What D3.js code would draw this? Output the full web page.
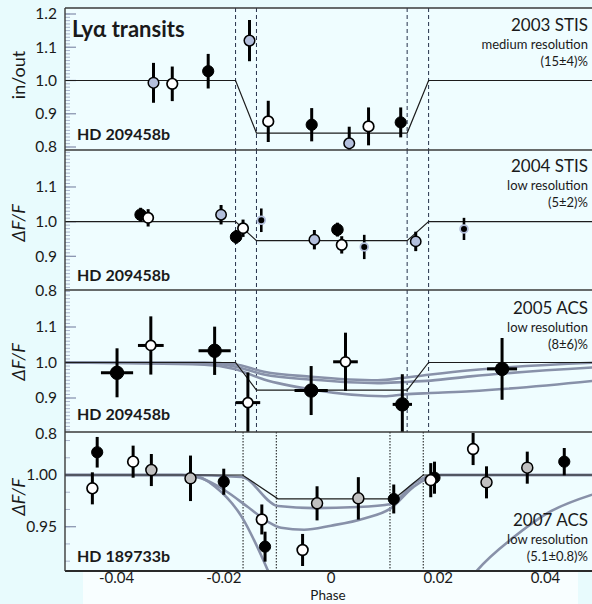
<!DOCTYPE html>
<html>
<head>
<meta charset="utf-8">
<script src="https://cdn.jsdelivr.net/npm/d3@7"></script>
<style>
  body { margin: 0; background: #e8fbfd; }
  svg { display: block; }
  text { font-family: Lato, "Open Sans", sans-serif; fill: #1a1a1a; }
</style>
</head>
<body>
<div id="chart"></div>
<script>
// ---- data : [phase, value, error in value, (error in phase)] ----

// 2003 STIS (HD 209458b)
const sti03Blue  = [[-0.0331, 0.993, 0.060], [-0.0152, 1.120, 0.062], [0.0034, 0.811, 0.050]];
const sti03Black = [[-0.0229, 1.028, 0.052], [-0.0036, 0.867, 0.050], [0.0130, 0.874, 0.045]];
const sti03White = [[-0.0296, 0.990, 0.052], [-0.0117, 0.877, 0.062], [0.0070, 0.862, 0.057]];

// 2004 STIS (HD 209458b)
const sti04Blue  = [[-0.0205, 1.020, 0.028], [-0.0031, 0.948, 0.028], [0.0158, 0.943, 0.028]];
const sti04Dot   = [[-0.0130, 1.004, 0.034], [0.0062, 0.927, 0.035], [0.0248, 0.979, 0.032]];
const sti04Black = [[-0.0355, 1.020, 0.020], [-0.0177, 0.956, 0.020], [0.0012, 0.977, 0.020]];
const sti04White = [[-0.0341, 1.011, 0.025], [-0.0164, 0.981, 0.025], [0.0020, 0.933, 0.025]];

// 2005 ACS (HD 209458b)
const acs05Black = [[-0.0399, 0.971, 0.069, 0.0030], [-0.0217, 1.033, 0.068, 0.0030],
                    [-0.0037, 0.921, 0.069, 0.0031], [0.0133, 0.882, 0.085, 0.0018],
                    [0.0319, 0.982, 0.087, 0.0028]];
const acs05White = [[-0.0336, 1.048, 0.082, 0.0024], [-0.0155, 0.887, 0.085, 0.0023],
                    [0.0027, 1.002, 0.082, 0.0023]];

// 2007 ACS (HD 189733b)
const acs07Gray  = [[-0.0335, 1.0048, 0.0155], [-0.0262, 0.9968, 0.0220], [-0.0026, 0.9726, 0.0165],
                    [0.0051, 0.9774, 0.0205], [0.0290, 0.9929, 0.0155], [0.0366, 1.0071, 0.0155]];
const acs07Black = [[-0.0436, 1.0220, 0.0148], [-0.0200, 0.9935, 0.0126], [-0.0123, 0.9307, 0.0145],
                    [0.0117, 0.9768, 0.0140], [0.0193, 0.9974, 0.0155], [0.0435, 1.0129, 0.0132]];
const acs07White = [[-0.0445, 0.9871, 0.0155], [-0.0369, 1.0129, 0.0155], [-0.0129, 0.9570, 0.0145],
                    [-0.0053, 0.9275, 0.0155], [0.0186, 0.9950, 0.0165], [0.0265, 1.0251, 0.0155]];

// models : [phase, value]
const box209a = [[-0.05, 1.0], [-0.0178, 1.0], [-0.0139, 0.842], [0.0142, 0.842], [0.0182, 1.0], [0.05, 1.0]];
const box209b = [[-0.05, 1.0], [-0.0178, 1.0], [-0.0139, 0.945], [0.0142, 0.945], [0.0182, 1.0], [0.05, 1.0]];
const box209c = [[-0.05, 1.0], [-0.0178, 1.0], [-0.0139, 0.922], [0.0142, 0.922], [0.0182, 1.0], [0.05, 1.0]];
const box189  = [[-0.05, 1.0], [-0.0165, 1.0], [-0.0099, 0.977], [0.0118, 0.977], [0.0172, 1.0], [0.05, 1.0]];

const sim05a = [[-0.05, 1.0], [-0.0236, 1.0], [-0.018, 0.995], [-0.0125, 0.974], [-0.0037, 0.960],
                [0.0087, 0.950], [0.0136, 0.957], [0.0186, 0.966], [0.026, 0.978], [0.05, 1.0]];
const sim05b = [[-0.05, 1.0], [-0.0236, 0.998], [-0.018, 0.989], [-0.0125, 0.966], [-0.0037, 0.952],
                [0.0087, 0.942], [0.0136, 0.945], [0.0186, 0.949], [0.026, 0.961], [0.05, 0.987]];
const sim05c = [[-0.05, 1.0], [-0.0236, 0.994], [-0.018, 0.982], [-0.0125, 0.952], [-0.0037, 0.924],
                [0.0099, 0.905], [0.0136, 0.910], [0.0186, 0.914], [0.026, 0.919], [0.05, 0.950]];

const sim07a = [[-0.05, 1.0], [-0.0279, 1.0], [-0.0167, 0.998], [-0.0099, 0.970], [-0.0031, 0.968],
                [0.0050, 0.969], [0.0112, 0.972], [0.0155, 0.992], [0.0192, 1.0], [0.05, 1.0]];
const sim07b = [[-0.05, 1.0], [-0.0279, 1.0], [-0.0242, 0.9968], [-0.0199, 0.9855], [-0.0155, 0.969],
                [-0.0118, 0.955], [-0.0093, 0.949], [-0.0050, 0.947], [0.0, 0.951], [0.0062, 0.958],
                [0.0112, 0.968], [0.0155, 0.989], [0.0205, 1.0], [0.05, 1.0]];
const sim07c = [[-0.05, 1.0], [-0.0260, 1.0], [-0.0216, 0.9887], [-0.0167, 0.960], [-0.0118, 0.908],
                [-0.008, 0.86], [0.0, 0.80], [0.015, 0.82], [0.022, 0.87], [0.0273, 0.908],
                [0.0341, 0.940], [0.0403, 0.963], [0.0487, 0.981]];

// contacts
const contacts209 = [-0.0178, -0.0139, 0.0142, 0.0182];
const contacts189 = [-0.0164, -0.0102, 0.0110, 0.0172];

// axis ticks
const phaseTicks = [-0.04, -0.02, 0, 0.02, 0.04];
const phaseTickLabels = ['-0.04', '-0.02', '0', '0.02', '0.04'];
const ticks209top = [0.8, 0.9, 1.0, 1.1, 1.2];
const ticks209 = [0.8, 0.9, 1.0, 1.1];
const ticks189 = [0.95, 1.0];

// ---- layout ----
const width = 592, height = 604;
const plotLeft = 65, plotRight = 592;
const x = d3.scaleLinear().domain([-0.04, 0.04]).range([116.5, 545.5]);

const markerStyle = {
  blue:  { fill: '#b3bfdc', stroke: '#000', sw: 1.5 },
  gray:  { fill: '#c0c0c0', stroke: '#000', sw: 1.5 },
  black: { fill: '#000',    stroke: '#000', sw: 1 },
  white: { fill: '#fff',    stroke: '#000', sw: 1.7 },
  dot:   { fill: '#000',    stroke: '#b3bfdc', sw: 1.8 }
};

const panels = [
  { top: 8, bottom: 150, y: d3.scaleLinear().domain([0.8, 1.2]).range([147, 14]),
    ticks: ticks209top, fmt: d3.format('.1f'), minor: d3.range(80, 121).map(d => d / 100),
    ylabel: 'in/out', italic: false, ylabelY: 75,
    planet: 'HD 209458b', planetY: 140,
    title: ['2003 STIS', 'medium resolution', '(15±4)%'], titleY: 31,
    box: box209a, sims: [], contacts: contacts209, dash: '4,3',
    series: [['blue', sti03Blue, 5.3], ['black', sti03Black, 5.6], ['white', sti03White, 5.3]] },
  { top: 150, bottom: 290, y: d3.scaleLinear().domain([0.8, 1.2]).range([291, 152.3]),
    ticks: ticks209, fmt: d3.format('.1f'), minor: d3.range(80, 121).map(d => d / 100),
    ylabel: 'ΔF/F', italic: true, ylabelY: 223,
    planet: 'HD 209458b', planetY: 281,
    title: ['2004 STIS', 'low resolution', '(5±2)%'], titleY: 172,
    box: box209b, sims: [], contacts: contacts209, dash: '4,3',
    series: [['blue', sti04Blue, 5.2], ['dot', sti04Dot, 3.9], ['black', sti04Black, 5.8], ['white', sti04White, 5.2]] },
  { top: 290, bottom: 432, y: d3.scaleLinear().domain([0.8, 1.2]).range([433.5, 291.5]),
    ticks: ticks209, fmt: d3.format('.1f'), minor: d3.range(80, 121).map(d => d / 100),
    ylabel: 'ΔF/F', italic: true, ylabelY: 362,
    planet: 'HD 209458b', planetY: 420,
    title: ['2005 ACS', 'low resolution', '(8±6)%'], titleY: 314,
    box: box209c, sims: [sim05a, sim05b, sim05c], contacts: contacts209, dash: '4,3',
    series: [['black', acs05Black, 6.7], ['white', acs05White, 5.0]] },
  { top: 432, bottom: 571, y: d3.scaleLinear().domain([0.95, 1.0]).range([526.7, 475]),
    ticks: ticks189, fmt: d3.format('.2f'), minor: d3.range(-8, 5).map(k => 1 + k * 0.05 / 3),
    ylabel: 'ΔF/F', italic: true, ylabelY: 497,
    planet: 'HD 189733b', planetY: 562,
    title: ['2007 ACS', 'low resolution', '(5.1±0.8)%'], titleY: 526,
    box: box189, sims: [sim07a, sim07b, sim07c], contacts: contacts189, dash: '1.5,1.5',
    series: [['gray', acs07Gray, 5.5], ['black', acs07Black, 5.6], ['white', acs07White, 5.4]] }
];

const svg = d3.select('#chart').append('svg')
  .attr('width', width).attr('height', height);

svg.append('rect').attr('width', width).attr('height', height).attr('fill', '#e8fbfd');
// pale strip behind the phase labels
svg.append('rect').attr('x', 83).attr('y', 572).attr('width', 495).attr('height', 32).attr('fill', '#f8feff');

const line = d3.line().x(d => x(d[0]));

panels.forEach((p, i) => {
  const g = svg.append('g');
  const clipId = 'clip' + i;
  svg.append('clipPath').attr('id', clipId).append('rect')
    .attr('x', plotLeft).attr('y', p.top).attr('width', plotRight - plotLeft).attr('height', p.bottom - p.top);

  g.append('rect').attr('x', plotLeft).attr('y', p.top)
    .attr('width', plotRight - plotLeft).attr('height', p.bottom - p.top).attr('fill', '#effdff');

  // ticks on the left axis (pointing inwards)
  const inPanel = v => p.y(v) >= p.top + 1 && p.y(v) <= p.bottom - 1;
  g.selectAll('line.minor').data(p.minor.filter(inPanel)).enter().append('line')
    .attr('x1', plotLeft).attr('x2', plotLeft + 5)
    .attr('y1', d => p.y(d)).attr('y2', d => p.y(d))
    .attr('stroke', '#a9b4cc').attr('stroke-width', 1);
  g.selectAll('line.major').data(p.ticks.filter(inPanel)).enter().append('line')
    .attr('x1', plotLeft).attr('x2', plotLeft + 11)
    .attr('y1', d => p.y(d)).attr('y2', d => p.y(d))
    .attr('stroke', '#8c97b2').attr('stroke-width', 1.3);
  g.selectAll('text.tick').data(p.ticks).enter().append('text')
    .attr('x', 57).attr('y', d => p.y(d)).attr('dy', '0.35em')
    .attr('text-anchor', 'end').style('font-size', '15.5px')
    .text(d => p.fmt(d));

  const inner = g.append('g').attr('clip-path', `url(#${clipId})`);

  // contact lines
  inner.selectAll('line.contact').data(p.contacts).enter().append('line')
    .attr('x1', d => x(d)).attr('x2', d => x(d))
    .attr('y1', p.top).attr('y2', p.bottom)
    .attr('stroke', i < 3 ? '#26324c' : '#111').attr('stroke-width', 1)
    .attr('stroke-dasharray', p.dash);

  // simulated light curves
  const ln = line.y(d => p.y(d[1])).curve(d3.curveMonotoneX);
  p.sims.forEach(s => {
    inner.append('path').attr('d', ln(s)).attr('fill', 'none')
      .attr('stroke', '#8891a9').attr('stroke-width', 2.6);
  });

  // box model
  inner.append('path').attr('d', line.y(d => p.y(d[1])).curve(d3.curveLinear)(p.box))
    .attr('fill', 'none').attr('stroke', '#1c1c1c').attr('stroke-width', 1.2);

  // data points
  p.series.forEach(([kind, pts, r]) => {
    const st = markerStyle[kind];
    const sg = inner.append('g');
    sg.selectAll('line.ev').data(pts).enter().append('line')
      .attr('x1', d => x(d[0])).attr('x2', d => x(d[0]))
      .attr('y1', d => p.y(d[1] - d[2])).attr('y2', d => p.y(d[1] + d[2]))
      .attr('stroke', '#000').attr('stroke-width', kind === 'dot' ? 2.6 : 3);
    sg.selectAll('line.eh').data(pts.filter(d => d.length > 3)).enter().append('line')
      .attr('x1', d => x(d[0] - d[3])).attr('x2', d => x(d[0] + d[3]))
      .attr('y1', d => p.y(d[1])).attr('y2', d => p.y(d[1]))
      .attr('stroke', '#000').attr('stroke-width', 3);
    sg.selectAll('circle').data(pts).enter().append('circle')
      .attr('cx', d => x(d[0])).attr('cy', d => p.y(d[1])).attr('r', r)
      .attr('fill', st.fill).attr('stroke', st.stroke).attr('stroke-width', st.sw);
  });

  // labels
  g.append('text').attr('transform', `translate(25,${p.ylabelY}) rotate(-90)`)
    .attr('text-anchor', 'middle').style('font-size', '18px')
    .style('font-style', p.italic ? 'italic' : 'normal')
    .text(p.ylabel);
  g.append('text').attr('x', 77).attr('y', p.planetY)
    .style('font-size', '16px').style('font-weight', 'bold').text(p.planet);
  const tg = g.append('g').attr('text-anchor', 'end');
  tg.append('text').attr('x', 588).attr('y', p.titleY).style('font-size', '17px').text(p.title[0]);
  tg.append('text').attr('x', 588).attr('y', p.titleY + 18).style('font-size', '13px').text(p.title[1]);
  tg.append('text').attr('x', 588).attr('y', p.titleY + 35).style('font-size', '13px').text(p.title[2]);

  // panel border line on top
  svg.append('line').attr('x1', plotLeft).attr('x2', plotRight)
    .attr('y1', p.top).attr('y2', p.top).attr('stroke', '#3a3a3a').attr('stroke-width', 1.4);
});

// bottom axis line and left axis line
svg.append('line').attr('x1', plotLeft).attr('x2', plotRight).attr('y1', 571).attr('y2', 571)
  .attr('stroke', '#2a2a2a').attr('stroke-width', 2);
svg.append('line').attr('x1', plotLeft).attr('x2', plotLeft).attr('y1', 8).attr('y2', 571)
  .attr('stroke', '#3a3a3a').attr('stroke-width', 1.4);

svg.append('text').attr('x', 72).attr('y', 37)
  .style('font-size', '22px').style('font-weight', 'bold').text('Lyα transits');

// phase axis
svg.selectAll('text.phase').data(phaseTicks).enter().append('text')
  .attr('x', d => x(d)).attr('y', 583).attr('text-anchor', 'middle')
  .style('font-size', '15px').text((d, i) => phaseTickLabels[i]);
svg.append('text').attr('x', 328).attr('y', 600).attr('text-anchor', 'middle')
  .style('font-size', '13.5px').text('Phase');
</script>
</body>
</html>
